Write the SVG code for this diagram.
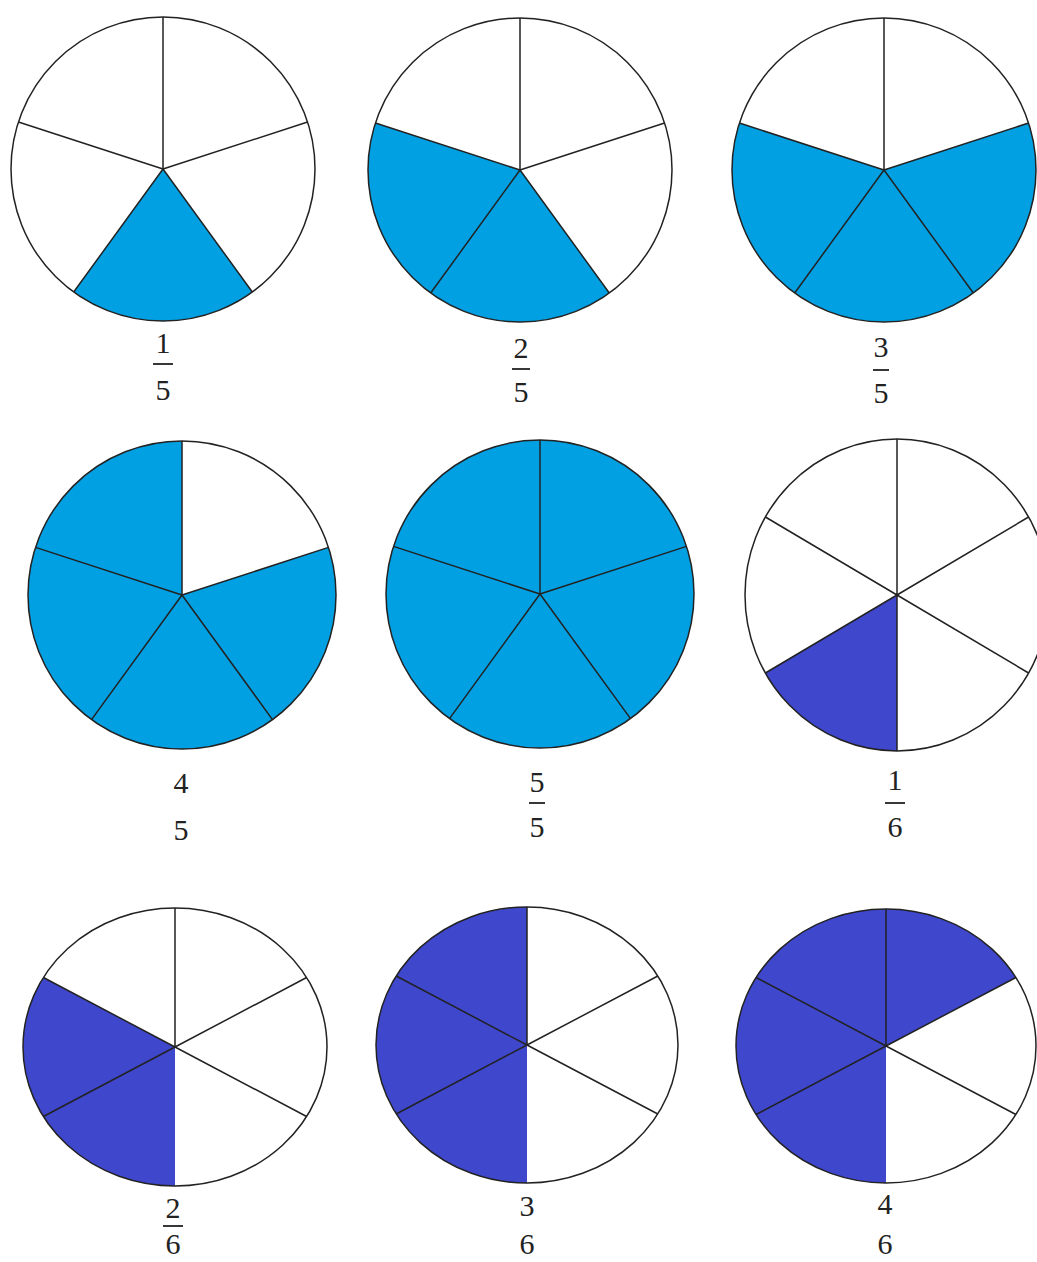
<svg xmlns="http://www.w3.org/2000/svg" width="1037" height="1262" viewBox="0 0 1037 1262">
<style>
.bg{fill:#ffffff}
.disk{fill:#ffffff;stroke:none}
.rim{fill:none;stroke:#222222;stroke-width:1.5}
.ray{stroke:#222222;stroke-width:1.5;fill:none}
.lb{fill:#00a0e3}
.db{fill:#3f47cc}
.num{font-family:"Liberation Serif","Times New Roman",serif;font-size:30px;fill:#222222;text-anchor:middle}
.bar{stroke:#222222;stroke-width:1.8}
</style>
<rect class="bg" x="0" y="0" width="1037" height="1262"/>

<g id="pie-1-5">
<circle class="disk" cx="163" cy="169" r="152"/>
<path class="lb" d="M163,169 L252.3,292 A152,152 0 0 1 73.7,292 Z"/>
<path class="ray" d="M163,169 L163,17 M163,169 L307.6,122 M163,169 L252.3,292 M163,169 L73.7,292 M163,169 L18.4,122"/>
<circle class="rim" cx="163" cy="169" r="152"/>
</g>

<g id="pie-2-5">
<circle class="disk" cx="520" cy="170" r="152"/>
<path class="lb" d="M520,170 L609.3,293 A152,152 0 0 1 375.4,123 Z"/>
<path class="ray" d="M520,170 L520,18 M520,170 L664.6,123 M520,170 L609.3,293 M520,170 L430.7,293 M520,170 L375.4,123"/>
<circle class="rim" cx="520" cy="170" r="152"/>
</g>

<g id="pie-3-5">
<circle class="disk" cx="884" cy="170" r="152"/>
<path class="lb" d="M884,170 L1028.6,123 A152,152 0 1 1 739.4,123 Z"/>
<path class="ray" d="M884,170 L884,18 M884,170 L1028.6,123 M884,170 L973.3,293 M884,170 L794.7,293 M884,170 L739.4,123"/>
<circle class="rim" cx="884" cy="170" r="152"/>
</g>

<g id="pie-4-5">
<circle class="disk" cx="182" cy="595" r="154"/>
<path class="lb" d="M182,595 L328.5,547.4 A154,154 0 1 1 182,441 Z"/>
<path class="ray" d="M182,595 L182,441 M182,595 L328.5,547.4 M182,595 L272.5,719.6 M182,595 L91.5,719.6 M182,595 L35.5,547.4"/>
<circle class="rim" cx="182" cy="595" r="154"/>
</g>

<g id="pie-5-5">
<circle class="lb" cx="540" cy="594" r="154"/>
<path class="ray" d="M540,594 L540,440 M540,594 L686.5,546.4 M540,594 L630.5,718.6 M540,594 L449.5,718.6 M540,594 L393.5,546.4"/>
<circle class="rim" cx="540" cy="594" r="154"/>
</g>

<g id="pie-1-6">
<ellipse class="disk" cx="897" cy="595" rx="152" ry="156"/>
<path class="db" d="M897,595 L897,751 A152,156 0 0 1 765.4,673 Z"/>
<path class="ray" d="M897,595 L897,439 M897,595 L1028.6,517 M897,595 L1028.6,673 M897,595 L897,751 M897,595 L765.4,673 M897,595 L765.4,517"/>
<ellipse class="rim" cx="897" cy="595" rx="152" ry="156"/>
</g>

<g id="pie-2-6">
<ellipse class="disk" cx="175" cy="1047" rx="152" ry="139"/>
<path class="db" d="M175,1047 L175,1186 A152,139 0 0 1 43.4,977.5 Z"/>
<path class="ray" d="M175,1047 L175,908 M175,1047 L306.6,977.5 M175,1047 L306.6,1116.5 M175,1047 L43.4,1116.5 M175,1047 L43.4,977.5"/>
<ellipse class="rim" cx="175" cy="1047" rx="152" ry="139"/>
</g>

<g id="pie-3-6">
<ellipse class="disk" cx="527" cy="1045" rx="151" ry="138"/>
<path class="db" d="M527,1045 L527,1183 A151,138 0 0 1 527,907 Z"/>
<path class="ray" d="M527,1045 L527,907 M527,1045 L657.8,976 M527,1045 L657.8,1114 M527,1045 L396.2,1114 M527,1045 L396.2,976"/>
<ellipse class="rim" cx="527" cy="1045" rx="151" ry="138"/>
</g>

<g id="pie-4-6">
<ellipse class="disk" cx="886" cy="1046" rx="150" ry="137"/>
<path class="db" d="M886,1046 L886,1183 A150,137 0 1 1 1015.9,977.5 Z"/>
<path class="ray" d="M886,1046 L886,909 M886,1046 L1015.9,977.5 M886,1046 L1015.9,1114.5 M886,1046 L756.1,1114.5 M886,1046 L756.1,977.5"/>
<ellipse class="rim" cx="886" cy="1046" rx="150" ry="137"/>
</g>

<g id="label-1-5">
<text class="num" x="163" y="353">1</text>
<line class="bar" x1="153" y1="364" x2="173" y2="364"/>
<text class="num" x="163" y="400">5</text>
</g>
<g id="label-2-5">
<text class="num" x="521" y="358">2</text>
<line class="bar" x1="512" y1="369" x2="530" y2="369"/>
<text class="num" x="521" y="402">5</text>
</g>
<g id="label-3-5">
<text class="num" x="881" y="357">3</text>
<line class="bar" x1="873" y1="370" x2="889" y2="370"/>
<text class="num" x="881" y="403">5</text>
</g>
<g id="label-4-5">
<text class="num" x="181" y="793">4</text>
<text class="num" x="181" y="840">5</text>
</g>
<g id="label-5-5">
<text class="num" x="537" y="792">5</text>
<line class="bar" x1="529" y1="803" x2="545" y2="803"/>
<text class="num" x="537" y="837">5</text>
</g>
<g id="label-1-6">
<text class="num" x="895" y="790">1</text>
<line class="bar" x1="885" y1="803" x2="905" y2="803"/>
<text class="num" x="895" y="837">6</text>
</g>
<g id="label-2-6">
<text class="num" x="173" y="1218">2</text>
<line class="bar" x1="163" y1="1226" x2="183" y2="1226"/>
<text class="num" x="173" y="1254">6</text>
</g>
<g id="label-3-6">
<text class="num" x="527" y="1216">3</text>
<text class="num" x="527" y="1254">6</text>
</g>
<g id="label-4-6">
<text class="num" x="885" y="1214">4</text>
<text class="num" x="885" y="1254">6</text>
</g>
</svg>
